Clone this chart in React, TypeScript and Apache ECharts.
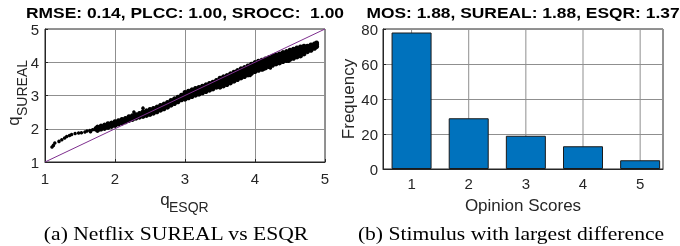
import React, { useEffect, useRef } from 'react';
import * as echarts from 'echarts';

const leftTicks = [1, 2, 3, 4, 5];
const opinionScores = [1, 2, 3, 4, 5];
const frequencies = [78, 29, 19, 13, 5];
const frequencyMax = 80;
const diagonalLine = [[1, 1], [5, 5]];

const leftTitle = 'RMSE: 0.14, PLCC: 1.00, SROCC:  1.00';
const rightTitle = 'MOS: 1.88, SUREAL: 1.88, ESQR: 1.37';
const captionA = '(a) Netflix SUREAL vs ESQR';
const captionB = '(b) Stimulus with largest difference';

// sparse low-end points and outliers [q_ESQR, q_SUREAL]
const sparsePoints = [
  [1.10, 1.45], [1.12, 1.50], [1.14, 1.57], [1.20, 1.62], [1.24, 1.67],
  [1.28, 1.72], [1.31, 1.77], [1.35, 1.80], [1.38, 1.83], [1.43, 1.86],
  [1.48, 1.87], [1.52, 1.88], [1.57, 1.90], [1.60, 1.93], [1.64, 1.95],
  [1.65, 1.91], [1.68, 1.97], [1.71, 1.98], [1.72, 2.02], [2.40, 2.62],
  [2.27, 2.50], [3.93, 3.60], [4.22, 3.83], [4.48, 4.03], [4.12, 3.78],
];

// dense band: each row is [q_ESQR, q_SUREAL values...]
const bandRows = [
  [1.75, 1.95, 2.00, 2.05],
  [1.80, 1.99, 2.03, 2.08],
  [1.85, 2.01, 2.06, 2.11],
  [1.90, 2.04, 2.09, 2.15],
  [1.95, 2.07, 2.12, 2.17],
  [2.00, 2.10, 2.15, 2.21],
  [2.05, 2.14, 2.19, 2.24],
  [2.10, 2.17, 2.22, 2.28],
  [2.15, 2.21, 2.26, 2.31],
  [2.20, 2.25, 2.30, 2.36],
  [2.25, 2.28, 2.33, 2.39],
  [2.30, 2.32, 2.37, 2.42],
  [2.35, 2.35, 2.40, 2.46],
  [2.40, 2.37, 2.44, 2.51],
  [2.45, 2.40, 2.47, 2.54],
  [2.50, 2.43, 2.50, 2.58],
  [2.55, 2.47, 2.54, 2.61],
  [2.60, 2.51, 2.58, 2.65],
  [2.65, 2.56, 2.63, 2.70],
  [2.70, 2.60, 2.67, 2.74],
  [2.75, 2.65, 2.72, 2.79],
  [2.80, 2.71, 2.78, 2.85],
  [2.85, 2.76, 2.83, 2.90],
  [2.90, 2.81, 2.88, 2.95],
  [2.95, 2.87, 2.94, 3.01],
  [3.00, 2.89, 2.96, 3.03, 3.09],
  [3.05, 2.93, 3.00, 3.07, 3.13],
  [3.10, 2.97, 3.04, 3.11, 3.17],
  [3.15, 3.01, 3.08, 3.15, 3.21],
  [3.20, 3.04, 3.11, 3.18, 3.24],
  [3.25, 3.08, 3.15, 3.22, 3.28],
  [3.30, 3.12, 3.19, 3.26, 3.32],
  [3.35, 3.16, 3.23, 3.30, 3.36],
  [3.40, 3.20, 3.27, 3.34, 3.40],
  [3.45, 3.25, 3.32, 3.39, 3.45],
  [3.50, 3.25, 3.34, 3.43, 3.52],
  [3.55, 3.29, 3.38, 3.47, 3.56],
  [3.60, 3.33, 3.42, 3.51, 3.60],
  [3.65, 3.38, 3.47, 3.56, 3.65],
  [3.70, 3.43, 3.52, 3.61, 3.70],
  [3.75, 3.48, 3.57, 3.66, 3.75],
  [3.80, 3.53, 3.62, 3.71, 3.80],
  [3.85, 3.57, 3.66, 3.75, 3.84],
  [3.90, 3.62, 3.71, 3.80, 3.89],
  [3.95, 3.67, 3.76, 3.85, 3.94],
  [4.00, 3.72, 3.81, 3.90, 3.99],
  [4.05, 3.76, 3.85, 3.94, 4.03],
  [4.10, 3.79, 3.88, 3.97, 4.06],
  [4.15, 3.83, 3.92, 4.01, 4.10],
  [4.20, 3.87, 3.96, 4.05, 4.14],
  [4.25, 3.91, 4.00, 4.09, 4.18],
  [4.30, 3.95, 4.04, 4.13, 4.22],
  [4.35, 3.98, 4.07, 4.16, 4.25],
  [4.40, 4.02, 4.11, 4.20, 4.29],
  [4.45, 4.05, 4.14, 4.23, 4.32],
  [4.50, 4.09, 4.18, 4.27, 4.36],
  [4.55, 4.12, 4.21, 4.30, 4.39],
  [4.60, 4.16, 4.25, 4.34, 4.43],
  [4.65, 4.19, 4.28, 4.37, 4.46],
  [4.70, 4.25, 4.33, 4.41, 4.48],
  [4.75, 4.32, 4.41, 4.48],
  [4.80, 4.36, 4.45, 4.52],
  [4.85, 4.42, 4.49, 4.55],
  [4.88, 4.47, 4.53, 4.58],
];

const FONT = '"Liberation Sans", Arial, Helvetica, sans-serif';
const SERIF = '"Liberation Serif", "Times New Roman", serif';
const TXT = '#262626';
const GRIDC = '#8f8f8f';

export default function App() {
  const ref = useRef<HTMLDivElement>(null);
  useEffect(() => {
    if (!ref.current) return;
    const chart = echarts.init(ref.current, null, { renderer: 'svg' });

    const bandPoints: number[][] = [];
    bandRows.forEach((row) => {
      for (let i = 1; i < row.length; i++) bandPoints.push([row[0], row[i]]);
    });

    const axisCommon = {
      axisLine: { show: true, lineStyle: { color: TXT, width: 1 } },
      axisTick: { show: true, inside: true, length: 3, lineStyle: { color: TXT } },
      axisLabel: { color: TXT, fontSize: 15, fontFamily: FONT },
      splitLine: { show: true, lineStyle: { color: GRIDC, width: 1 } },
    };

    // vertical grid lines of the bar chart, one plain line series per score
    const verticalGridSeries = opinionScores.map((s) => ({
      type: 'line',
      xAxisIndex: 1,
      yAxisIndex: 1,
      data: [[s, 0], [s, frequencyMax]],
      symbol: 'none',
      silent: true,
      lineStyle: { color: GRIDC, width: 1 },
      z: 2,
    }));

    const option: any = {
      animation: false,
      textStyle: { fontFamily: FONT },
      grid: [
        { left: 45, top: 29, width: 280, height: 133, show: true, borderColor: TXT, borderWidth: 1 },
        { left: 383, top: 29, width: 280, height: 140, show: true, borderColor: TXT, borderWidth: 1 },
      ],
      xAxis: [
        {
          gridIndex: 0, type: 'value', min: leftTicks[0], max: leftTicks[leftTicks.length - 1], interval: 1,
          ...axisCommon, axisLabel: { ...axisCommon.axisLabel, margin: 9 },
        },
        {
          gridIndex: 1, type: 'value', min: 0.5, max: 5.4, interval: 0.5,
          ...axisCommon,
          axisLabel: {
            ...axisCommon.axisLabel, margin: 7,
            formatter: (v: number) => (opinionScores.indexOf(Math.round(v * 10) / 10) >= 0 ? String(Math.round(v)) : ''),
          },
          axisTick: { show: false },
          splitLine: { show: false },
          name: 'Opinion Scores', nameLocation: 'middle', nameGap: 28,
          nameTextStyle: { color: TXT, fontSize: 17, fontFamily: FONT },
        },
      ],
      yAxis: [
        {
          gridIndex: 0, type: 'value', min: 1, max: 5, interval: 1,
          ...axisCommon, axisLabel: { ...axisCommon.axisLabel, margin: 6 },
        },
        {
          gridIndex: 1, type: 'value', min: 0, max: frequencyMax, interval: 20,
          ...axisCommon, axisLabel: { ...axisCommon.axisLabel, margin: 5 },
          name: 'Frequency', nameLocation: 'middle', nameGap: 25,
          nameTextStyle: { color: TXT, fontSize: 17, fontFamily: FONT },
        },
      ],
      series: [
        {
          type: 'scatter', xAxisIndex: 0, yAxisIndex: 0, data: sparsePoints,
          symbolSize: 3.5, itemStyle: { color: '#000', opacity: 1 }, z: 3,
        },
        {
          type: 'scatter', xAxisIndex: 0, yAxisIndex: 0, data: bandPoints,
          symbolSize: 5, itemStyle: { color: '#000', opacity: 1 }, z: 3,
        },
        {
          type: 'line', xAxisIndex: 0, yAxisIndex: 0, data: diagonalLine,
          symbol: 'none', lineStyle: { color: '#7E2F8E', width: 1 }, z: 4,
        },
        ...verticalGridSeries,
        {
          type: 'bar', xAxisIndex: 1, yAxisIndex: 1,
          data: opinionScores.map((s, i) => [s, frequencies[i]]),
          barWidth: 40,
          itemStyle: { color: '#0072BD', borderColor: '#1a1a1a', borderWidth: 1 },
          z: 10,
        },
      ],
      graphic: [
        { type: 'text', x: 185, y: 12, scaleX: 1.16, style: { text: leftTitle, font: `bold 15px ${FONT}`, fill: '#000', align: 'center', verticalAlign: 'middle' } },
        { type: 'text', x: 523, y: 12, scaleX: 1.16, style: { text: rightTitle, font: `bold 15px ${FONT}`, fill: '#000', align: 'center', verticalAlign: 'middle' } },
        { type: 'text', x: 165, y: 199, style: { text: 'q', font: `17px ${FONT}`, fill: TXT, align: 'center', verticalAlign: 'middle' } },
        { type: 'text', x: 169, y: 207, style: { text: 'ESQR', font: `14px ${FONT}`, fill: TXT, align: 'left', verticalAlign: 'middle' } },
        { type: 'text', x: 13, y: 121, rotation: Math.PI / 2, style: { text: 'q', font: `17px ${FONT}`, fill: TXT, align: 'center', verticalAlign: 'middle' } },
        { type: 'text', x: 22, y: 116, rotation: Math.PI / 2, style: { text: 'SUREAL', font: `14px ${FONT}`, fill: TXT, align: 'left', verticalAlign: 'middle' } },
        { type: 'text', x: 176, y: 234, scaleX: 1.2, style: { text: captionA, font: `18px ${SERIF}`, fill: '#000', align: 'center', verticalAlign: 'middle' } },
        { type: 'text', x: 511, y: 234, scaleX: 1.2, style: { text: captionB, font: `18px ${SERIF}`, fill: '#000', align: 'center', verticalAlign: 'middle' } },
      ],
    };
    chart.setOption(option);
    return () => chart.dispose();
  }, []);
  return <div ref={ref} style={{ position: 'fixed', left: 0, top: 0, width: 680, height: 246 }} />;
}
